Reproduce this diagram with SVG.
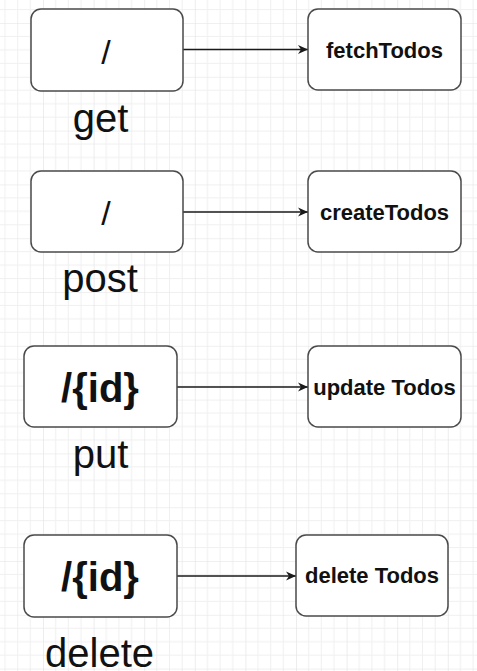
<svg xmlns="http://www.w3.org/2000/svg" width="477" height="671" viewBox="0 0 477 671">
<defs>
<pattern id="grid" patternUnits="userSpaceOnUse" x="43" y="23" width="50.6" height="53.8">
<path d="M12.65 0V53.8M25.3 0V53.8M37.95 0V53.8M0 13.45H50.6M0 26.9H50.6M0 40.35H50.6" stroke="#f0f0f0" stroke-width="1" fill="none"/>
<path d="M0 0V53.8M0 0H50.6" stroke="#e2e2e2" stroke-width="1.2" fill="none"/>
</pattern>
<marker id="arr" markerUnits="userSpaceOnUse" markerWidth="12" markerHeight="12" refX="10" refY="6" orient="auto">
<path d="M0,1.5 L10,6 L0,10.5 L3,6 Z" fill="#1a1a1a"/>
</marker>
</defs>
<style>
.box{fill:#fff;stroke:#4a4a4a;stroke-width:1.5}
.conn{stroke:#1a1a1a;stroke-width:1.4;fill:none}
.t{font-family:"Liberation Sans",Arial,sans-serif;fill:#111;text-anchor:middle}
.slash{font-size:34px}
.id{font-size:40px;font-weight:bold}
.fn{font-size:22px;font-weight:bold}
.lbl{font-size:40px}
</style>
<rect width="477" height="671" fill="#fff"/>
<rect width="477" height="671" fill="url(#grid)"/>
<g id="connectors">
<path class="conn" d="M183 49.5H308" marker-end="url(#arr)"/>
<path class="conn" d="M183 212H308" marker-end="url(#arr)"/>
<path class="conn" d="M177 387H308" marker-end="url(#arr)"/>
<path class="conn" d="M177 576H296" marker-end="url(#arr)"/>
</g>
<g id="get-route">
<rect class="box" x="31" y="9" width="152" height="82" rx="10"/>
<text class="t slash" x="106" y="64">/</text>
<text class="t lbl" x="100.5" y="132">get</text>
</g>
<g id="fetchTodos">
<rect class="box" x="308" y="9" width="153" height="81" rx="10"/>
<text class="t fn" x="384.5" y="58">fetchTodos</text>
</g>
<g id="post-route">
<rect class="box" x="31" y="171" width="152" height="81" rx="10"/>
<text class="t slash" x="106" y="225">/</text>
<text class="t lbl" x="100" y="292">post</text>
</g>
<g id="createTodos">
<rect class="box" x="308" y="171" width="153" height="81" rx="10"/>
<text class="t fn" x="384.5" y="220">createTodos</text>
</g>
<g id="put-route">
<rect class="box" x="24" y="346" width="153" height="81" rx="10"/>
<text class="t id" x="100" y="401.5">/{id}</text>
<text class="t lbl" x="100.5" y="468">put</text>
</g>
<g id="updateTodos">
<rect class="box" x="308" y="346" width="153" height="81" rx="10"/>
<text class="t fn" x="384.5" y="395">update Todos</text>
</g>
<g id="delete-route">
<rect class="box" x="24" y="535" width="153" height="82" rx="10"/>
<text class="t id" x="100" y="591">/{id}</text>
<text class="t lbl" x="99.5" y="667">delete</text>
</g>
<g id="deleteTodos">
<rect class="box" x="296" y="535" width="152" height="81" rx="10"/>
<text class="t fn" x="372" y="583">delete Todos</text>
</g>
</svg>
